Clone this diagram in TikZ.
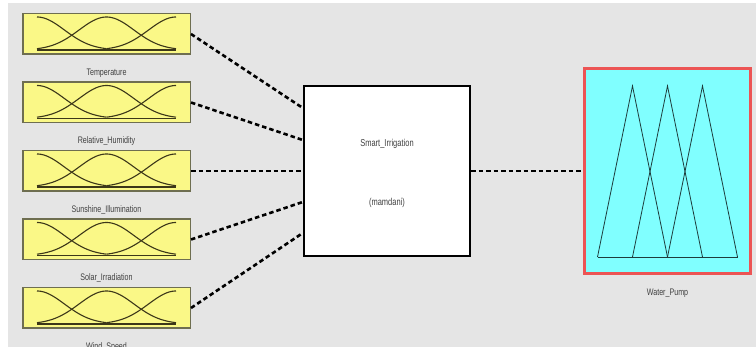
\documentclass[tikz,border=0pt]{standalone}
\usepackage{fontspec}
\usepackage{xcolor}
\usetikzlibrary{positioning}
\newfontfamily\lblfont[FakeStretch=0.75]{Liberation Sans}
\definecolor{bggray}{RGB}{229,229,229}
\definecolor{infill}{RGB}{250,248,135}
\definecolor{inedge}{RGB}{110,110,80}
\definecolor{mfline}{RGB}{60,55,25}
\definecolor{outfill}{RGB}{128,255,255}
\definecolor{outedge}{RGB}{236,84,84}
\definecolor{triline}{RGB}{30,60,60}
\definecolor{txtgray}{RGB}{64,64,64}

\begin{document}
\begin{tikzpicture}[
  x=1pt,y=-1pt,
  inbox/.style={draw=inedge,line width=1.5pt,fill=infill,minimum width=167.5pt,
                minimum height=40.5pt,inner sep=0pt},
  fisbox/.style={draw=black,line width=2.4pt,fill=white,minimum width=166pt,
                 minimum height=170pt,inner sep=0pt},
  outbox/.style={draw=outedge,line width=3pt,fill=outfill,minimum width=166pt,
                 minimum height=205pt,inner sep=0pt},
  lbl/.style={font=\lblfont\fontsize{9.5}{11}\selectfont,text=txtgray,inner sep=0pt},
  link/.style={line width=2.6pt,dash pattern=on 4.5pt off 3pt},
  mf/.style={draw=mfline,line width=1.1pt},
  tri/.style={draw=triline,line width=0.8pt,line join=miter}
]
% canvas
\fill[white] (0,0) rectangle (756,347);
\fill[bggray] (8,3) rectangle (756,347);
\useasboundingbox (0,0) rectangle (756,347);

% inference system and output
\node[fisbox] (fis) at (387,171) {};
\node[lbl,font=\lblfont\fontsize{10}{12}\selectfont] (fisname) at ([yshift=27pt]fis.center) {Smart\_Irrigation};
\node[lbl,font=\lblfont\fontsize{10}{12}\selectfont] (fistype) at ([yshift=-32pt]fis.center) {(mamdani)};

\node[outbox] (out) at (667.5,171) {};
\node[lbl] (outlbl) at ([yshift=-18.5pt]out.south) {Water\_Pump};
\begin{scope}[shift={(out.center)}]
  \foreach \p in {-35,0,35}
    \draw[tri] (\p-35,86) -- (\p,-85) -- (\p+35,86);
  \draw[tri] (-70,86) -- (70,86);
\end{scope}
\draw[link] (fis.east) -- (out.west);

% inputs
\foreach \txt/\dy [count=\i] in {Temperature/63,Relative\_Humidity/31,
    Sunshine\_Illumination/0,Solar\_Irradiation/-31,Wind\_Speed/-62}{
  \node[inbox] (in\i) at (106.5,{34+68.5*(\i-1)}) {};
  \node[lbl] (inlbl\i) at ([yshift=-18pt]in\i.south) {\txt};
  \begin{scope}[shift={(in\i.center)}]
    \draw[mf] plot[domain=-69.5:0,samples=40]
      (\x,{16-33*exp(-((\x+69.5)*(\x+69.5))/1500)});
    \draw[mf] plot[domain=-69.5:69.5,samples=60]
      (\x,{16-33*exp(-(\x*\x)/1500)});
    \draw[mf] plot[domain=0:69.5,samples=40]
      (\x,{16-33*exp(-((\x-69.5)*(\x-69.5))/1500)});
    \draw[mf,line width=1.8pt] (-69.5,16) -- (69.5,16);
  \end{scope}
  \draw[link] (in\i.east) -- ([yshift=\dy pt]fis.west);
}
\end{tikzpicture}
\end{document}
